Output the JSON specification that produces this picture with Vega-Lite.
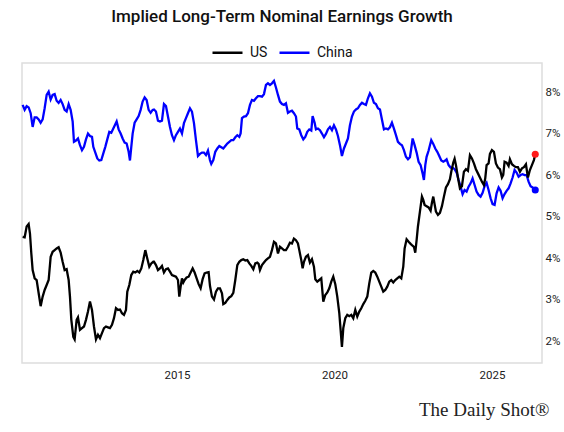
{
  "$schema": "https://vega.github.io/schema/vega-lite/v6.json",
  "width": 520,
  "height": 300,
  "autosize": {"type": "none"},
  "padding": {"left": 22, "top": 63, "right": 22, "bottom": 69},
  "background": "white",
  "title": {
    "text": "Implied Long-Term Nominal Earnings Growth",
    "font": "Roboto",
    "fontSize": 17,
    "fontWeight": 500,
    "color": "#111111",
    "anchor": "middle",
    "offset": 10
  },
  "config": {
    "view": {"stroke": "#dddddd", "strokeWidth": 1.5},
    "font": "Roboto"
  },
  "datasets": {
    "d": [
      {"s":"China","t":2010.101,"v":7.69},{"s":"China","t":2010.164,"v":7.57},{"s":"China","t":2010.228,"v":7.66},{"s":"China","t":2010.291,"v":7.63},{"s":"China","t":2010.355,"v":7.49},{"s":"China","t":2010.418,"v":7.16},{"s":"China","t":2010.482,"v":7.39},{"s":"China","t":2010.545,"v":7.39},{"s":"China","t":2010.609,"v":7.34},{"s":"China","t":2010.672,"v":7.26},{"s":"China","t":2010.736,"v":7.34},{"s":"China","t":2010.799,"v":7.61},{"s":"China","t":2010.863,"v":7.93},{"s":"China","t":2010.926,"v":8.01},{"s":"China","t":2010.99,"v":7.82},{"s":"China","t":2011.053,"v":7.93},{"s":"China","t":2011.117,"v":7.95},{"s":"China","t":2011.18,"v":7.79},{"s":"China","t":2011.243,"v":7.74},{"s":"China","t":2011.307,"v":7.81},{"s":"China","t":2011.37,"v":7.71},{"s":"China","t":2011.434,"v":7.57},{"s":"China","t":2011.497,"v":7.53},{"s":"China","t":2011.561,"v":7.71},{"s":"China","t":2011.624,"v":7.57},{"s":"China","t":2011.688,"v":7.29},{"s":"China","t":2011.73,"v":6.8},{"s":"China","t":2011.794,"v":6.83},{"s":"China","t":2011.857,"v":6.88},{"s":"China","t":2011.921,"v":6.72},{"s":"China","t":2011.984,"v":6.6},{"s":"China","t":2012.048,"v":6.68},{"s":"China","t":2012.111,"v":6.86},{"s":"China","t":2012.175,"v":7.0},{"s":"China","t":2012.238,"v":6.94},{"s":"China","t":2012.302,"v":6.92},{"s":"China","t":2012.344,"v":6.68},{"s":"China","t":2012.408,"v":6.54},{"s":"China","t":2012.471,"v":6.4},{"s":"China","t":2012.535,"v":6.35},{"s":"China","t":2012.598,"v":6.36},{"s":"China","t":2012.662,"v":6.52},{"s":"China","t":2012.725,"v":6.68},{"s":"China","t":2012.788,"v":6.86},{"s":"China","t":2012.852,"v":7.04},{"s":"China","t":2012.915,"v":7.02},{"s":"China","t":2012.979,"v":7.12},{"s":"China","t":2013.085,"v":7.29},{"s":"China","t":2013.148,"v":7.1},{"s":"China","t":2013.212,"v":7.0},{"s":"China","t":2013.275,"v":6.88},{"s":"China","t":2013.339,"v":6.78},{"s":"China","t":2013.402,"v":6.76},{"s":"China","t":2013.466,"v":6.56},{"s":"China","t":2013.508,"v":6.35},{"s":"China","t":2013.55,"v":6.68},{"s":"China","t":2013.593,"v":7.0},{"s":"China","t":2013.656,"v":7.26},{"s":"China","t":2013.72,"v":7.34},{"s":"China","t":2013.783,"v":7.42},{"s":"China","t":2013.847,"v":7.57},{"s":"China","t":2013.91,"v":7.77},{"s":"China","t":2013.974,"v":7.87},{"s":"China","t":2014.037,"v":7.81},{"s":"China","t":2014.101,"v":7.57},{"s":"China","t":2014.164,"v":7.5},{"s":"China","t":2014.228,"v":7.57},
      {"s":"China","t":2014.27,"v":7.58},{"s":"China","t":2014.333,"v":7.53},{"s":"China","t":2014.397,"v":7.31},{"s":"China","t":2014.46,"v":7.29},{"s":"China","t":2014.524,"v":7.31},{"s":"China","t":2014.587,"v":7.71},{"s":"China","t":2014.651,"v":7.66},{"s":"China","t":2014.714,"v":7.41},{"s":"China","t":2014.778,"v":7.16},{"s":"China","t":2014.841,"v":6.96},{"s":"China","t":2014.905,"v":6.84},{"s":"China","t":2014.968,"v":6.96},{"s":"China","t":2015.032,"v":7.04},{"s":"China","t":2015.095,"v":7.12},{"s":"China","t":2015.159,"v":7.0},{"s":"China","t":2015.222,"v":7.25},{"s":"China","t":2015.286,"v":7.37},{"s":"China","t":2015.349,"v":7.49},{"s":"China","t":2015.413,"v":7.61},{"s":"China","t":2015.476,"v":7.53},{"s":"China","t":2015.54,"v":7.25},{"s":"China","t":2015.603,"v":6.84},{"s":"China","t":2015.667,"v":6.46},{"s":"China","t":2015.73,"v":6.51},{"s":"China","t":2015.794,"v":6.54},{"s":"China","t":2015.857,"v":6.54},{"s":"China","t":2015.921,"v":6.48},{"s":"China","t":2015.984,"v":6.59},{"s":"China","t":2016.048,"v":6.36},{"s":"China","t":2016.09,"v":6.27},{"s":"China","t":2016.154,"v":6.36},{"s":"China","t":2016.217,"v":6.56},{"s":"China","t":2016.281,"v":6.64},{"s":"China","t":2016.344,"v":6.7},{"s":"China","t":2016.408,"v":6.67},{"s":"China","t":2016.471,"v":6.64},{"s":"China","t":2016.535,"v":6.7},{"s":"China","t":2016.598,"v":6.76},{"s":"China","t":2016.662,"v":6.8},{"s":"China","t":2016.725,"v":6.84},{"s":"China","t":2016.789,"v":6.84},{"s":"China","t":2016.852,"v":6.91},{"s":"China","t":2016.916,"v":6.96},{"s":"China","t":2016.979,"v":6.92},{"s":"China","t":2017.021,"v":7.0},{"s":"China","t":2017.064,"v":7.37},{"s":"China","t":2017.127,"v":7.41},{"s":"China","t":2017.191,"v":7.42},{"s":"China","t":2017.254,"v":7.49},{"s":"China","t":2017.318,"v":7.69},{"s":"China","t":2017.381,"v":7.81},{"s":"China","t":2017.445,"v":7.79},{"s":"China","t":2017.508,"v":7.85},{"s":"China","t":2017.572,"v":7.9},{"s":"China","t":2017.635,"v":7.9},{"s":"China","t":2017.699,"v":7.89},{"s":"China","t":2017.762,"v":7.95},{"s":"China","t":2017.826,"v":8.17},{"s":"China","t":2017.889,"v":8.21},{"s":"China","t":2017.953,"v":8.17},{"s":"China","t":2018.016,"v":8.21},{"s":"China","t":2018.08,"v":8.27},{"s":"China","t":2018.143,"v":8.11},{"s":"China","t":2018.207,"v":7.93},{"s":"China","t":2018.27,"v":7.77},{"s":"China","t":2018.334,"v":7.71},
      {"s":"China","t":2018.397,"v":7.69},{"s":"China","t":2018.46,"v":7.73},{"s":"China","t":2018.524,"v":7.5},{"s":"China","t":2018.587,"v":7.53},{"s":"China","t":2018.651,"v":7.55},{"s":"China","t":2018.714,"v":7.49},{"s":"China","t":2018.778,"v":7.41},{"s":"China","t":2018.82,"v":7.12},{"s":"China","t":2018.884,"v":7.1},{"s":"China","t":2018.947,"v":6.96},{"s":"China","t":2019.011,"v":6.86},{"s":"China","t":2019.074,"v":6.92},{"s":"China","t":2019.138,"v":7.04},{"s":"China","t":2019.201,"v":7.1},{"s":"China","t":2019.265,"v":7.07},{"s":"China","t":2019.307,"v":7.42},{"s":"China","t":2019.371,"v":7.26},{"s":"China","t":2019.413,"v":7.1},{"s":"China","t":2019.476,"v":7.12},{"s":"China","t":2019.54,"v":7.08},{"s":"China","t":2019.603,"v":7.0},{"s":"China","t":2019.667,"v":6.91},{"s":"China","t":2019.73,"v":6.99},{"s":"China","t":2019.794,"v":7.1},{"s":"China","t":2019.857,"v":7.16},{"s":"China","t":2019.921,"v":7.08},{"s":"China","t":2019.984,"v":7.2},{"s":"China","t":2020.048,"v":7.1},{"s":"China","t":2020.111,"v":6.94},{"s":"China","t":2020.175,"v":6.72},{"s":"China","t":2020.238,"v":6.46},{"s":"China","t":2020.302,"v":6.64},{"s":"China","t":2020.365,"v":6.76},{"s":"China","t":2020.429,"v":6.88},{"s":"China","t":2020.492,"v":7.2},{"s":"China","t":2020.556,"v":7.41},{"s":"China","t":2020.619,"v":7.53},{"s":"China","t":2020.683,"v":7.58},{"s":"China","t":2020.746,"v":7.61},{"s":"China","t":2020.81,"v":7.69},{"s":"China","t":2020.873,"v":7.74},{"s":"China","t":2020.937,"v":7.71},{"s":"China","t":2021.0,"v":7.69},{"s":"China","t":2021.064,"v":7.85},{"s":"China","t":2021.127,"v":7.97},{"s":"China","t":2021.191,"v":7.89},{"s":"China","t":2021.254,"v":7.74},{"s":"China","t":2021.318,"v":7.71},{"s":"China","t":2021.381,"v":7.61},{"s":"China","t":2021.445,"v":7.58},{"s":"China","t":2021.508,"v":7.34},{"s":"China","t":2021.572,"v":7.1},{"s":"China","t":2021.635,"v":7.12},{"s":"China","t":2021.699,"v":7.1},{"s":"China","t":2021.762,"v":7.15},{"s":"China","t":2021.826,"v":7.26},{"s":"China","t":2021.889,"v":7.12},{"s":"China","t":2021.953,"v":6.96},{"s":"China","t":2022.016,"v":6.8},{"s":"China","t":2022.08,"v":6.75},{"s":"China","t":2022.143,"v":6.72},{"s":"China","t":2022.206,"v":6.6},{"s":"China","t":2022.27,"v":6.44},{"s":"China","t":2022.334,"v":6.38},{"s":"China","t":2022.397,"v":6.43},
      {"s":"China","t":2022.439,"v":6.64},{"s":"China","t":2022.482,"v":6.88},{"s":"China","t":2022.545,"v":6.72},{"s":"China","t":2022.609,"v":6.54},{"s":"China","t":2022.672,"v":6.32},{"s":"China","t":2022.736,"v":6.24},{"s":"China","t":2022.799,"v":6.04},{"s":"China","t":2022.841,"v":5.88},{"s":"China","t":2022.884,"v":6.24},{"s":"China","t":2022.926,"v":6.44},{"s":"China","t":2022.99,"v":6.59},{"s":"China","t":2023.032,"v":6.72},{"s":"China","t":2023.074,"v":6.84},{"s":"China","t":2023.138,"v":6.75},{"s":"China","t":2023.201,"v":6.64},{"s":"China","t":2023.265,"v":6.56},{"s":"China","t":2023.328,"v":6.46},{"s":"China","t":2023.392,"v":6.35},{"s":"China","t":2023.455,"v":6.32},{"s":"China","t":2023.519,"v":6.35},{"s":"China","t":2023.561,"v":6.38},{"s":"China","t":2023.625,"v":6.24},{"s":"China","t":2023.688,"v":6.18},{"s":"China","t":2023.752,"v":6.18},{"s":"China","t":2023.815,"v":6.14},{"s":"China","t":2023.879,"v":6.06},{"s":"China","t":2023.942,"v":5.88},{"s":"China","t":2024.005,"v":5.72},{"s":"China","t":2024.069,"v":5.54},{"s":"China","t":2024.132,"v":5.64},{"s":"China","t":2024.196,"v":5.6},{"s":"China","t":2024.259,"v":5.72},{"s":"China","t":2024.323,"v":5.8},{"s":"China","t":2024.386,"v":5.92},{"s":"China","t":2024.45,"v":5.76},{"s":"China","t":2024.513,"v":5.6},{"s":"China","t":2024.577,"v":5.52},{"s":"China","t":2024.64,"v":5.48},{"s":"China","t":2024.704,"v":5.57},{"s":"China","t":2024.767,"v":5.73},{"s":"China","t":2024.831,"v":5.81},{"s":"China","t":2024.894,"v":5.64},{"s":"China","t":2024.958,"v":5.44},{"s":"China","t":2025.021,"v":5.3},{"s":"China","t":2025.085,"v":5.28},{"s":"China","t":2025.148,"v":5.56},{"s":"China","t":2025.212,"v":5.7},{"s":"China","t":2025.275,"v":5.62},{"s":"China","t":2025.339,"v":5.44},{"s":"China","t":2025.402,"v":5.54},{"s":"China","t":2025.466,"v":5.62},{"s":"China","t":2025.529,"v":5.68},{"s":"China","t":2025.593,"v":5.8},{"s":"China","t":2025.656,"v":5.94},{"s":"China","t":2025.72,"v":6.12},{"s":"China","t":2025.783,"v":6.06},{"s":"China","t":2025.847,"v":5.96},{"s":"China","t":2025.91,"v":6.0},{"s":"China","t":2025.974,"v":6.02},{"s":"China","t":2026.037,"v":6.0},{"s":"China","t":2026.101,"v":6.0},{"s":"China","t":2026.164,"v":5.84},{"s":"China","t":2026.228,"v":5.73},{"s":"China","t":2026.291,"v":5.7},{"s":"China","t":2026.376,"v":5.64},
      {"s":"US","t":2010.101,"v":4.51},{"s":"US","t":2010.164,"v":4.5},{"s":"US","t":2010.228,"v":4.76},{"s":"US","t":2010.291,"v":4.82},{"s":"US","t":2010.333,"v":4.59},{"s":"US","t":2010.376,"v":4.11},{"s":"US","t":2010.418,"v":3.71},{"s":"US","t":2010.482,"v":3.51},{"s":"US","t":2010.545,"v":3.47},{"s":"US","t":2010.609,"v":3.15},{"s":"US","t":2010.672,"v":2.84},{"s":"US","t":2010.736,"v":3.07},{"s":"US","t":2010.799,"v":3.23},{"s":"US","t":2010.863,"v":3.35},{"s":"US","t":2010.926,"v":3.47},{"s":"US","t":2010.99,"v":4.03},{"s":"US","t":2011.053,"v":4.15},{"s":"US","t":2011.117,"v":4.19},{"s":"US","t":2011.18,"v":4.23},{"s":"US","t":2011.243,"v":4.26},{"s":"US","t":2011.307,"v":4.13},{"s":"US","t":2011.37,"v":3.91},{"s":"US","t":2011.434,"v":3.71},{"s":"US","t":2011.497,"v":3.73},{"s":"US","t":2011.561,"v":3.47},{"s":"US","t":2011.603,"v":3.07},{"s":"US","t":2011.646,"v":2.51},{"s":"US","t":2011.709,"v":2.1},{"s":"US","t":2011.751,"v":2.04},{"s":"US","t":2011.815,"v":2.51},{"s":"US","t":2011.857,"v":2.57},{"s":"US","t":2011.921,"v":2.27},{"s":"US","t":2011.984,"v":2.31},{"s":"US","t":2012.048,"v":2.35},{"s":"US","t":2012.111,"v":2.51},{"s":"US","t":2012.175,"v":2.71},{"s":"US","t":2012.238,"v":2.95},{"s":"US","t":2012.302,"v":2.75},{"s":"US","t":2012.365,"v":2.35},{"s":"US","t":2012.429,"v":2.04},{"s":"US","t":2012.492,"v":2.15},{"s":"US","t":2012.556,"v":2.07},{"s":"US","t":2012.619,"v":2.19},{"s":"US","t":2012.683,"v":2.31},{"s":"US","t":2012.746,"v":2.35},{"s":"US","t":2012.81,"v":2.33},{"s":"US","t":2012.873,"v":2.31},{"s":"US","t":2012.937,"v":2.39},{"s":"US","t":2013.0,"v":2.55},{"s":"US","t":2013.064,"v":2.79},{"s":"US","t":2013.127,"v":2.75},{"s":"US","t":2013.191,"v":2.76},{"s":"US","t":2013.254,"v":2.67},{"s":"US","t":2013.318,"v":2.63},{"s":"US","t":2013.381,"v":2.75},{"s":"US","t":2013.423,"v":3.19},{"s":"US","t":2013.487,"v":3.35},{"s":"US","t":2013.55,"v":3.59},{"s":"US","t":2013.614,"v":3.67},{"s":"US","t":2013.677,"v":3.65},{"s":"US","t":2013.741,"v":3.69},{"s":"US","t":2013.804,"v":3.65},{"s":"US","t":2013.868,"v":3.75},{"s":"US","t":2013.931,"v":3.95},{"s":"US","t":2013.995,"v":4.19},{"s":"US","t":2014.058,"v":3.99},{"s":"US","t":2014.122,"v":3.79},{"s":"US","t":2014.185,"v":3.87},{"s":"US","t":2014.249,"v":3.91},
      {"s":"US","t":2014.27,"v":3.91},{"s":"US","t":2014.333,"v":3.83},{"s":"US","t":2014.397,"v":3.71},{"s":"US","t":2014.46,"v":3.75},{"s":"US","t":2014.524,"v":3.81},{"s":"US","t":2014.587,"v":3.65},{"s":"US","t":2014.651,"v":3.73},{"s":"US","t":2014.714,"v":3.75},{"s":"US","t":2014.778,"v":3.67},{"s":"US","t":2014.841,"v":3.59},{"s":"US","t":2014.905,"v":3.57},{"s":"US","t":2014.968,"v":3.55},{"s":"US","t":2015.032,"v":3.47},{"s":"US","t":2015.074,"v":3.07},{"s":"US","t":2015.117,"v":3.31},{"s":"US","t":2015.159,"v":3.51},{"s":"US","t":2015.201,"v":3.41},{"s":"US","t":2015.244,"v":3.47},{"s":"US","t":2015.307,"v":3.53},{"s":"US","t":2015.371,"v":3.55},{"s":"US","t":2015.434,"v":3.65},{"s":"US","t":2015.498,"v":3.75},{"s":"US","t":2015.561,"v":3.65},{"s":"US","t":2015.625,"v":3.51},{"s":"US","t":2015.688,"v":3.37},{"s":"US","t":2015.751,"v":3.27},{"s":"US","t":2015.815,"v":3.49},{"s":"US","t":2015.878,"v":3.63},{"s":"US","t":2015.942,"v":3.65},{"s":"US","t":2016.005,"v":3.66},{"s":"US","t":2016.048,"v":3.33},{"s":"US","t":2016.111,"v":3.07},{"s":"US","t":2016.175,"v":3.0},{"s":"US","t":2016.238,"v":3.19},{"s":"US","t":2016.302,"v":3.27},{"s":"US","t":2016.365,"v":3.27},{"s":"US","t":2016.429,"v":3.15},{"s":"US","t":2016.471,"v":2.89},{"s":"US","t":2016.535,"v":2.92},{"s":"US","t":2016.598,"v":2.99},{"s":"US","t":2016.662,"v":3.05},{"s":"US","t":2016.725,"v":3.08},{"s":"US","t":2016.789,"v":3.16},{"s":"US","t":2016.852,"v":3.47},{"s":"US","t":2016.916,"v":3.83},{"s":"US","t":2016.979,"v":3.91},{"s":"US","t":2017.043,"v":3.95},{"s":"US","t":2017.106,"v":3.97},{"s":"US","t":2017.17,"v":3.94},{"s":"US","t":2017.233,"v":3.95},{"s":"US","t":2017.297,"v":3.87},{"s":"US","t":2017.36,"v":3.81},{"s":"US","t":2017.424,"v":3.73},{"s":"US","t":2017.487,"v":3.87},{"s":"US","t":2017.55,"v":3.89},{"s":"US","t":2017.593,"v":3.86},{"s":"US","t":2017.635,"v":3.71},{"s":"US","t":2017.699,"v":3.83},{"s":"US","t":2017.762,"v":3.89},{"s":"US","t":2017.826,"v":3.95},{"s":"US","t":2017.889,"v":3.99},{"s":"US","t":2017.953,"v":4.03},{"s":"US","t":2018.016,"v":4.19},{"s":"US","t":2018.08,"v":4.39},{"s":"US","t":2018.143,"v":4.35},{"s":"US","t":2018.207,"v":4.11},{"s":"US","t":2018.27,"v":4.27},{"s":"US","t":2018.334,"v":4.23},
      {"s":"US","t":2018.397,"v":4.19},{"s":"US","t":2018.46,"v":4.19},{"s":"US","t":2018.524,"v":4.27},{"s":"US","t":2018.587,"v":4.37},{"s":"US","t":2018.651,"v":4.35},{"s":"US","t":2018.714,"v":4.47},{"s":"US","t":2018.778,"v":4.43},{"s":"US","t":2018.841,"v":4.35},{"s":"US","t":2018.884,"v":4.19},{"s":"US","t":2018.947,"v":3.95},{"s":"US","t":2018.99,"v":3.75},{"s":"US","t":2019.032,"v":3.91},{"s":"US","t":2019.095,"v":4.03},{"s":"US","t":2019.159,"v":4.07},{"s":"US","t":2019.222,"v":3.89},{"s":"US","t":2019.286,"v":3.97},{"s":"US","t":2019.349,"v":3.79},{"s":"US","t":2019.392,"v":3.49},{"s":"US","t":2019.455,"v":3.43},{"s":"US","t":2019.519,"v":3.47},{"s":"US","t":2019.582,"v":3.51},{"s":"US","t":2019.646,"v":2.95},{"s":"US","t":2019.709,"v":3.11},{"s":"US","t":2019.773,"v":3.17},{"s":"US","t":2019.836,"v":3.27},{"s":"US","t":2019.9,"v":3.43},{"s":"US","t":2019.963,"v":3.55},{"s":"US","t":2020.027,"v":3.37},{"s":"US","t":2020.09,"v":3.07},{"s":"US","t":2020.154,"v":2.67},{"s":"US","t":2020.196,"v":2.27},{"s":"US","t":2020.238,"v":1.86},{"s":"US","t":2020.281,"v":2.31},{"s":"US","t":2020.344,"v":2.55},{"s":"US","t":2020.408,"v":2.63},{"s":"US","t":2020.471,"v":2.6},{"s":"US","t":2020.535,"v":2.63},{"s":"US","t":2020.598,"v":2.55},{"s":"US","t":2020.662,"v":2.75},{"s":"US","t":2020.725,"v":2.59},{"s":"US","t":2020.789,"v":2.71},{"s":"US","t":2020.852,"v":2.79},{"s":"US","t":2020.916,"v":2.89},{"s":"US","t":2020.979,"v":2.97},{"s":"US","t":2021.043,"v":3.07},{"s":"US","t":2021.106,"v":3.39},{"s":"US","t":2021.169,"v":3.65},{"s":"US","t":2021.233,"v":3.69},{"s":"US","t":2021.296,"v":3.65},{"s":"US","t":2021.36,"v":3.55},{"s":"US","t":2021.423,"v":3.43},{"s":"US","t":2021.487,"v":3.31},{"s":"US","t":2021.55,"v":3.19},{"s":"US","t":2021.614,"v":3.23},{"s":"US","t":2021.677,"v":3.31},{"s":"US","t":2021.741,"v":3.43},{"s":"US","t":2021.804,"v":3.47},{"s":"US","t":2021.868,"v":3.41},{"s":"US","t":2021.931,"v":3.47},{"s":"US","t":2021.995,"v":3.51},{"s":"US","t":2022.058,"v":3.55},{"s":"US","t":2022.122,"v":3.51},{"s":"US","t":2022.185,"v":3.79},{"s":"US","t":2022.228,"v":4.23},{"s":"US","t":2022.291,"v":4.45},{"s":"US","t":2022.355,"v":4.39},{"s":"US","t":2022.418,"v":4.34},
      {"s":"US","t":2022.46,"v":4.31},{"s":"US","t":2022.524,"v":4.27},{"s":"US","t":2022.566,"v":4.13},{"s":"US","t":2022.609,"v":4.43},{"s":"US","t":2022.651,"v":4.76},{"s":"US","t":2022.714,"v":5.12},{"s":"US","t":2022.778,"v":5.48},{"s":"US","t":2022.82,"v":5.4},{"s":"US","t":2022.863,"v":5.28},{"s":"US","t":2022.926,"v":5.25},{"s":"US","t":2022.99,"v":5.22},{"s":"US","t":2023.053,"v":5.14},{"s":"US","t":2023.095,"v":5.33},{"s":"US","t":2023.138,"v":5.48},{"s":"US","t":2023.18,"v":5.3},{"s":"US","t":2023.222,"v":5.12},{"s":"US","t":2023.286,"v":5.04},{"s":"US","t":2023.349,"v":5.09},{"s":"US","t":2023.413,"v":5.25},{"s":"US","t":2023.476,"v":5.48},{"s":"US","t":2023.54,"v":5.7},{"s":"US","t":2023.603,"v":5.78},{"s":"US","t":2023.667,"v":5.9},{"s":"US","t":2023.709,"v":6.08},{"s":"US","t":2023.773,"v":6.3},{"s":"US","t":2023.815,"v":6.39},{"s":"US","t":2023.857,"v":6.24},{"s":"US","t":2023.921,"v":5.94},{"s":"US","t":2023.984,"v":5.68},{"s":"US","t":2024.048,"v":5.73},{"s":"US","t":2024.111,"v":6.08},{"s":"US","t":2024.175,"v":6.14},{"s":"US","t":2024.238,"v":6.1},{"s":"US","t":2024.302,"v":6.48},{"s":"US","t":2024.365,"v":6.4},{"s":"US","t":2024.429,"v":6.28},{"s":"US","t":2024.492,"v":6.14},{"s":"US","t":2024.556,"v":6.04},{"s":"US","t":2024.619,"v":5.94},{"s":"US","t":2024.683,"v":5.84},{"s":"US","t":2024.746,"v":5.76},{"s":"US","t":2024.788,"v":5.92},{"s":"US","t":2024.831,"v":6.24},{"s":"US","t":2024.894,"v":6.28},{"s":"US","t":2024.937,"v":6.51},{"s":"US","t":2025.0,"v":6.6},{"s":"US","t":2025.064,"v":6.56},{"s":"US","t":2025.127,"v":6.28},{"s":"US","t":2025.191,"v":6.18},{"s":"US","t":2025.254,"v":6.14},{"s":"US","t":2025.318,"v":5.94},{"s":"US","t":2025.36,"v":6.0},{"s":"US","t":2025.402,"v":6.32},{"s":"US","t":2025.466,"v":6.3},{"s":"US","t":2025.529,"v":6.22},{"s":"US","t":2025.571,"v":6.38},{"s":"US","t":2025.635,"v":6.26},{"s":"US","t":2025.699,"v":6.22},{"s":"US","t":2025.762,"v":6.19},{"s":"US","t":2025.826,"v":6.19},{"s":"US","t":2025.889,"v":6.08},{"s":"US","t":2025.953,"v":6.16},{"s":"US","t":2026.016,"v":6.19},{"s":"US","t":2026.08,"v":6.26},{"s":"US","t":2026.143,"v":5.94},{"s":"US","t":2026.206,"v":6.12},{"s":"US","t":2026.27,"v":6.24},{"s":"US","t":2026.333,"v":6.36},{"s":"US","t":2026.376,"v":6.5}
    ]
  },
  "data": {"name": "d"},
  "encoding": {
    "x": {
      "field": "t",
      "type": "quantitative",
      "scale": {"domain": [2010.08, 2026.59], "nice": false, "zero": false},
      "axis": {
        "values": [2015, 2020, 2025],
        "format": "d",
        "grid": false,
        "domain": false,
        "ticks": false,
        "labelFont": "Roboto",
        "labelFontSize": 11.5,
        "labelColor": "#222222",
        "labelPadding": 6,
        "title": "The Daily Shot®",
        "titleFont": "Liberation Serif",
        "titleFontSize": 19,
        "titleFontWeight": "normal",
        "titleColor": "#222222",
        "titleAnchor": "end",
        "titleAlign": "right",
        "titleBaseline": "alphabetic",
        "titleX": 527,
        "titleY": 52
      }
    },
    "y": {
      "field": "v",
      "type": "quantitative",
      "scale": {"domain": [1.47, 8.7], "nice": false, "zero": false},
      "axis": {
        "orient": "right",
        "values": [2, 3, 4, 5, 6, 7, 8],
        "labelExpr": "datum.value + '%'",
        "grid": false,
        "domain": false,
        "ticks": false,
        "labelPadding": 3,
        "labelFont": "Roboto",
        "labelFontSize": 11.5,
        "labelColor": "#222222",
        "title": null
      }
    }
  },
  "layer": [
    {
      "mark": {"type": "line", "strokeWidth": 2.3, "interpolate": "linear"},
      "encoding": {
        "color": {
          "field": "s",
          "type": "nominal",
          "sort": ["US", "China"],
          "scale": {"domain": ["US", "China"], "range": ["#000000", "#0000ff"]},
          "legend": {
            "title": null,
            "orient": "none",
            "direction": "horizontal",
            "legendX": 189,
            "legendY": -27,
            "symbolType": "stroke",
            "symbolSize": 900,
            "symbolStrokeWidth": 2.5,
            "labelFont": "Roboto",
            "labelFontSize": 14,
            "labelColor": "#111111",
            "columnPadding": 6,
            "labelOffset": 6
          }
        }
      }
    },
    {
      "transform": [{"filter": "datum.t > 2026.37 && datum.s == 'US'"}],
      "mark": {"type": "circle", "size": 50, "color": "#ff1a1a", "opacity": 1}
    },
    {
      "transform": [{"filter": "datum.t > 2026.37 && datum.s == 'China'"}],
      "mark": {"type": "circle", "size": 50, "color": "#0000ff", "opacity": 1}
    }
  ]
}
